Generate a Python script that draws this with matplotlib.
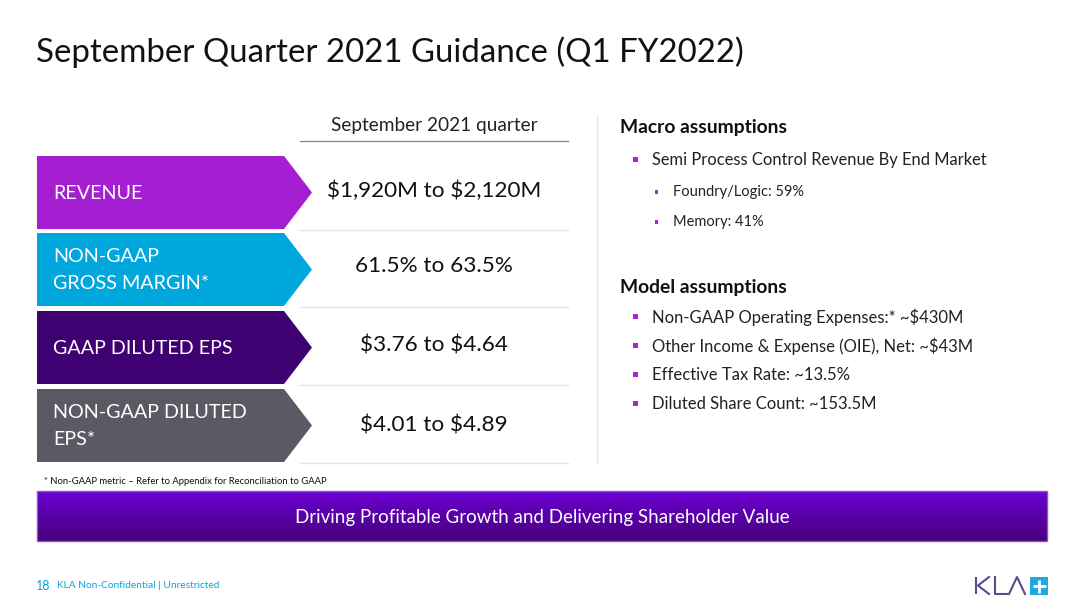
import matplotlib.pyplot as plt
import numpy as np
from matplotlib.patches import Polygon, Rectangle

plt.rcParams["font.family"] = ["Lato", "DejaVu Sans"]
plt.rcParams["text.parse_math"] = False

TITLE = "September Quarter 2021 Guidance (Q1 FY2022)"
COLUMN_HEADER = "September 2021 quarter"

metric_labels = [
    ["REVENUE"],
    ["NON-GAAP", "GROSS MARGIN*"],
    ["GAAP DILUTED EPS"],
    ["NON-GAAP DILUTED", "EPS*"],
]
guidance_values = [
    "$1,920M to $2,120M",
    "61.5% to 63.5%",
    "$3.76 to $4.64",
    "$4.01 to $4.89",
]

macro_items = ["Semi Process Control Revenue By End Market"]
macro_sub_items = ["Foundry/Logic: 59%", "Memory: 41%"]
model_items = [
    "Non-GAAP Operating Expenses:* ~$430M",
    "Other Income & Expense (OIE), Net: ~$43M",
    "Effective Tax Rate: ~13.5%",
    "Diluted Share Count: ~153.5M",
]

FOOTNOTE = "* Non-GAAP metric \u2013 Refer to Appendix for Reconciliation to GAAP"
BANNER = "Driving Profitable Growth and Delivering Shareholder Value"
PAGE = "18"
CLASSIFICATION = "KLA Non-Confidential | Unrestricted"

row_colors = ["#a61ed2", "#00a7dd", "#3f0072", "#5a5a64"]
bullet_color = "#a826d4"
cyan = "#00a7dd"

fig = plt.figure(figsize=(10.8, 6), dpi=100)
ax = fig.add_axes([0, 0, 1, 1])
ax.set_xlim(0, 1080)
ax.set_ylim(600, 0)
ax.axis("off")

ax.text(36, 62, TITLE, fontsize=23.8, color="#111111", va="baseline")

# left: arrow rows
row_tops = [156, 233, 311, 389]
row_h = 73
for i, (lines, value) in enumerate(zip(metric_labels, guidance_values)):
    top = row_tops[i]
    bot = top + row_h
    mid = (top + bot) / 2
    ax.add_patch(Polygon([(37, top), (284, top), (312, mid), (284, bot), (37, bot)],
                         closed=True, color=row_colors[i], lw=0))
    if len(lines) == 1:
        ax.text(53, mid + 1, lines[0], fontsize=14.2, color="white", va="center")
    else:
        ax.text(53, mid - 13, lines[0], fontsize=14.2, color="white", va="center")
        ax.text(53, mid + 14, lines[1], fontsize=14.2, color="white", va="center")
    ax.text(434, mid - [2, 4, 2, 0][i], value, fontsize=16.2, color="#111111",
            ha="center", va="center")
    ax.plot([300, 568], [bot + 1, bot + 1], color="#e4e4e4", lw=1)

ax.text(434, 126, COLUMN_HEADER, fontsize=13.7, color="#222222", ha="center", va="center")
ax.plot([300, 568], [141, 141], color="#8a8a8a", lw=1)

# divider
ax.plot([597, 597], [115, 462], color="#e4e4e4", lw=1)

# right: assumptions
ax.text(620, 127, "Macro assumptions", fontsize=13.9, fontweight="bold",
        color="#111111", va="center")
for j, item in enumerate(macro_items):
    y = 160 + j * 29
    ax.add_patch(Rectangle((633, y - 3), 5, 5, color=bullet_color, lw=0))
    ax.text(652, y, item, fontsize=11.9, color="#222222", va="center")
for j, item in enumerate(macro_sub_items):
    y = 192 + j * 30
    ax.add_patch(Rectangle((654.5, y - 2), 3.5, 3.5, color=bullet_color, lw=0))
    ax.text(673, y, item, fontsize=10.5, color="#222222", va="center")

ax.text(620, 288, "Model assumptions", fontsize=13.9, fontweight="bold",
        color="#111111", va="center")
for j, item in enumerate(model_items):
    y = 317 + j * 29
    ax.add_patch(Rectangle((633, y - 3), 5, 5, color=bullet_color, lw=0))
    ax.text(652, y, item, fontsize=12, color="#222222", va="center")

ax.text(44, 481, FOOTNOTE, fontsize=6.8, color="#111111", va="center")

# banner: bright violet at the top fading to deep purple at the bottom
top_c = np.array([0x6c, 0x00, 0xd4]) / 255
bot_c = np.array([0x46, 0x00, 0x7a]) / 255
n_steps = 50
for k in range(n_steps):
    t = k / (n_steps - 1)
    ax.add_patch(Rectangle((37, 491 + k), 1010, 1.05, color=top_c + (bot_c - top_c) * t,
                           lw=0, zorder=1))
ax.add_patch(Rectangle((37, 491), 1010, 50, fill=False, ec="#8a55c8", lw=1, zorder=2))
ax.text(542, 517, BANNER, fontsize=13.5, color="white", ha="center", va="center", zorder=3)

# footer
ax.text(36, 586, PAGE, fontsize=9, color=cyan, va="center")
ax.text(57, 586, CLASSIFICATION, fontsize=7.3, color=cyan, va="center")

# KLA logo
logo_c = "#5b4a8c"
lw = 1.5
ax.plot([976, 976], [577, 594], color=logo_c, lw=lw, solid_capstyle="butt")
ax.plot([989, 978, 989], [577, 585.5, 594], color=logo_c, lw=lw)
ax.plot([995, 995, 1007], [577, 594, 594], color=logo_c, lw=lw)
ax.plot([1009, 1017, 1025], [594, 577, 594], color=logo_c, lw=lw)
ax.add_patch(Rectangle((1030, 577), 18, 18, color="#1fa9e1", lw=0))
ax.plot([1039, 1039], [579.5, 592.5], color="white", lw=2, solid_capstyle="butt")
ax.plot([1032.5, 1045.5], [586, 586], color="white", lw=2, solid_capstyle="butt")

fig.savefig("out.png", dpi=100)
